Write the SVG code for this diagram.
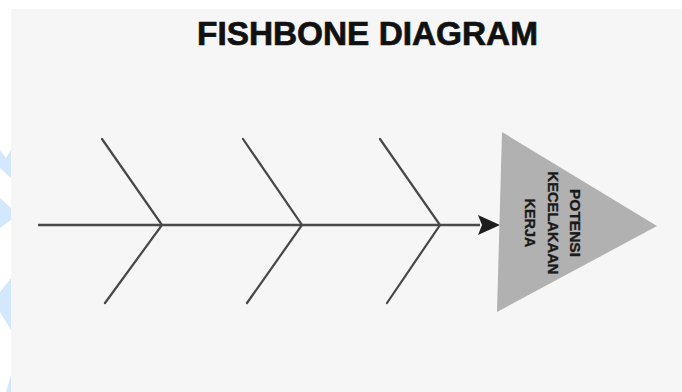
<svg xmlns="http://www.w3.org/2000/svg" width="682" height="392" viewBox="0 0 682 392">
  <defs>
    <style>
      .bone { stroke: #474747; stroke-width: 2.2; fill: none; stroke-linecap: round; }
      .spine { stroke: #4a4a4a; stroke-width: 2.6; fill: none; }
      .wm { fill: #d4e8fd; }
      .title { font-family: "Liberation Sans", Arial, sans-serif; font-weight: bold; font-size: 33px; fill: #111; stroke: #111; stroke-width: 0.7; }
      .head-text { font-family: "Liberation Sans", Arial, sans-serif; font-weight: bold; font-size: 15.5px; fill: #1a1a1a; stroke: #1a1a1a; stroke-width: 0.35; }
    </style>
    <marker id="arrow" viewBox="0 0 22 20" refX="2" refY="10" markerWidth="22" markerHeight="20" markerUnits="userSpaceOnUse" orient="auto">
      <path d="M0,0 L22,10 L0,20 L4,10 Z" fill="#1e1e1e"/>
    </marker>
  </defs>

  <rect x="0" y="0" width="682" height="392" fill="#ffffff"/>
  <rect x="11" y="9" width="671" height="383" fill="#f6f6f6"/>

  <g id="watermark">
    <polygon class="wm" points="0,150 6,158 11,150 11,178 0,168"/>
    <polygon class="wm" points="0,198 11,208 11,220 0,228"/>
    <polygon class="wm" points="0,292 11,278 11,330 0,312"/>
    <polygon class="wm" points="6,392 11,375 11,392"/>
  </g>

  <g id="title">
    <text class="title" x="367.5" y="45" text-anchor="middle" textLength="341" lengthAdjust="spacingAndGlyphs">FISHBONE DIAGRAM</text>
  </g>

  <g id="connectors">
    <line class="spine" x1="38" y1="225" x2="480" y2="225" marker-end="url(#arrow)"/>
    <polyline class="bone" points="102,139 162,225 105,303"/>
    <polyline class="bone" points="243,139 302,225 247,303"/>
    <polyline class="bone" points="380,139 440,225 387,303"/>
  </g>

  <g id="head">
    <polygon points="502,132 657,226 497,312" fill="#b1b1b1"/>
    <g transform="translate(553,223) rotate(90)">
      <text class="head-text" x="0" y="-17" text-anchor="middle" textLength="68" lengthAdjust="spacingAndGlyphs">POTENSI</text>
      <text class="head-text" x="0" y="5.5" text-anchor="middle" textLength="103" lengthAdjust="spacingAndGlyphs">KECELAKAAN</text>
      <text class="head-text" x="0" y="28" text-anchor="middle" textLength="49" lengthAdjust="spacingAndGlyphs">KERJA</text>
    </g>
  </g>
</svg>
